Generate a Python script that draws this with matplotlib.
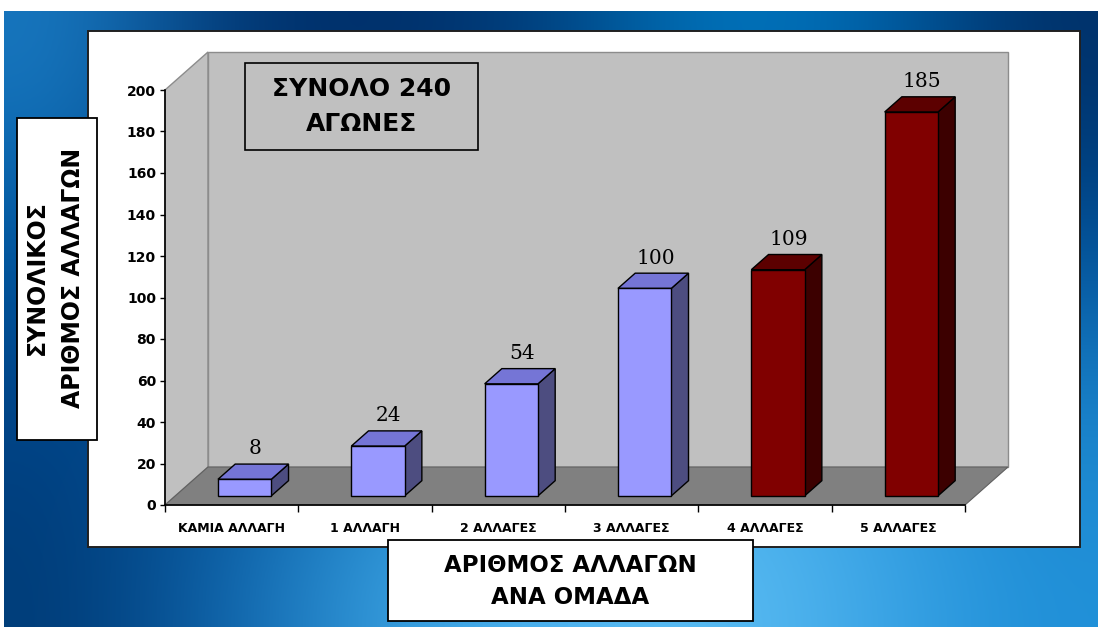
import numpy as np
import matplotlib
matplotlib.use("Agg")
import matplotlib.pyplot as plt
from matplotlib.patches import Polygon, Rectangle
from matplotlib.transforms import IdentityTransform
from matplotlib.colors import to_rgb

categories = ["ΚΑΜΙΑ ΑΛΛΑΓΗ", "1 ΑΛΛΑΓΗ", "2 ΑΛΛΑΓΕΣ", "3 ΑΛΛΑΓΕΣ", "4 ΑΛΛΑΓΕΣ", "5 ΑΛΛΑΓΕΣ"]
values = [8, 24, 54, 100, 109, 185]
yticks = [0, 20, 40, 60, 80, 100, 120, 140, 160, 180, 200]
title_text = "ΣΥΝΟΛΟ 240\nΑΓΩΝΕΣ"
ylabel_text = "ΣΥΝΟΛΙΚΟΣ\nΑΡΙΘΜΟΣ ΑΛΛΑΓΩΝ"
xlabel_text = "ΑΡΙΘΜΟΣ ΑΛΛΑΓΩΝ\nΑΝΑ ΟΜΑΔΑ"

# face colours (front, top, side)
light = ("#9999FF", "#7575D6", "#4D4D80")
dark = ("#800000", "#5C0000", "#3C0000")
bar_colors = [light, light, light, light, dark, dark]

W, H = 1098, 627
fig = plt.figure(figsize=(W / 100, H / 100), dpi=100)
fig.patch.set_facecolor("white")

def fbox(x0, y0, x1, y1):
    # pixel box (top-left origin) -> figure fraction rect
    return [x0 / W, 1 - y1 / H, (x1 - x0) / W, (y1 - y0) / H]

# blue backdrop
bg_grid = [
    ["#1878C0", "#003470", "#002E68", "#00407E", "#0078C0", "#0068B0", "#003068"],
    ["#0058A0", "#003A7C", "#004080", "#005090", "#0060A8", "#0060A8", "#004E96"],
    ["#004488", "#004C94", "#0870B8", "#2090D8", "#3AA8E8", "#2898E0", "#1880C8"],
    ["#003C78", "#1068B0", "#38A0E0", "#50B4F0", "#60C0F4", "#40A8E8", "#2090D8"],
]
bg = np.array([[to_rgb(c) for c in row] for row in bg_grid])
ax_bg = fig.add_axes(fbox(4, 11, W, H), zorder=-3)
ax_bg.imshow(bg, aspect="auto", interpolation="bicubic", extent=[0, 1, 0, 1])
ax_bg.axis("off")

# white chart area
fig.add_artist(Rectangle((88 / W, 1 - 547 / H), 992 / W, 516 / H, transform=fig.transFigure,
                         facecolor="white", edgecolor="#202020", lw=1.4, zorder=-2))

ax = fig.add_axes(fbox(165, 90, 965, 505), zorder=0)
ax.set_xlim(0, 6)
ax.set_ylim(0, 200)
ax.set_autoscale_on(False)
ax.patch.set_visible(False)

DX, DY = 43, 38  # depth offset in pixels
DF, DB = 0.24, 0.64  # bar front / back depth
BW = 0.4

def proj(x, y, d):
    px, py = ax.transData.transform((x, y))
    return (px + d * DX, py + d * DY)

def poly(pts, fc, ec, lw=1.0, z=1):
    p = Polygon(pts, closed=True, facecolor=fc, edgecolor=ec, lw=lw,
                transform=IdentityTransform(), clip_on=False, zorder=z)
    ax.add_patch(p)

# walls and floor
poly([proj(0, 0, 1), proj(6, 0, 1), proj(6, 200, 1), proj(0, 200, 1)], "#C0C0C0", "#8C8C8C", 1.0, 0.5)
poly([proj(0, 0, 0), proj(0, 0, 1), proj(0, 200, 1), proj(0, 200, 0)], "#C0C0C0", "#8C8C8C", 1.0, 0.4)
poly([proj(0, 0, 0), proj(6, 0, 0), proj(6, 0, 1), proj(0, 0, 1)], "#808080", "#606060", 0.8, 0.6)

for i, v in enumerate(values):
    front_c, top_c, side_c = bar_colors[i]
    x0 = i + 0.52 - BW / 2
    x1 = i + 0.52 + BW / 2
    poly([proj(x1, 0, DF), proj(x1, 0, DB), proj(x1, v, DB), proj(x1, v, DF)], side_c, "black", 1.0, 2)
    poly([proj(x0, v, DF), proj(x1, v, DF), proj(x1, v, DB), proj(x0, v, DB)], top_c, "black", 1.0, 2)
    poly([proj(x0, 0, DF), proj(x1, 0, DF), proj(x1, v, DF), proj(x0, v, DF)], front_c, "black", 1.0, 2)
    lx, ly = proj(i + 0.5, v, 0.55)
    ax.text(lx, ly + 9, str(v), transform=IdentityTransform(), ha="center", va="bottom",
            fontsize=14.5, family="DejaVu Serif", color="black", zorder=3)

for s in ["top", "right"]:
    ax.spines[s].set_visible(False)
for s in ["left", "bottom"]:
    ax.spines[s].set_color("black")
    ax.spines[s].set_linewidth(1.2)
    ax.spines[s].set_zorder(2.5)

ax.set_yticks(yticks)
ax.set_yticklabels([str(t) for t in yticks], fontsize=10, fontweight="bold")
ax.tick_params(axis="y", length=3.5, width=1, pad=3)
ax.set_xticks(range(7))
ax.set_xticklabels([])
ax.set_xticks([i + 0.5 for i in range(len(categories))], minor=True)
ax.set_xticklabels(categories, minor=True, fontsize=9, fontweight="bold")
ax.tick_params(axis="x", which="major", length=5, width=1, direction="out")
ax.tick_params(axis="x", which="minor", length=0, pad=12)

# title box on the back wall
fig.add_artist(Rectangle((245 / W, 1 - 150 / H), 233 / W, 87 / H, transform=fig.transFigure,
                         facecolor="none", edgecolor="black", lw=1.2, zorder=2))
fig.text(361.5 / W, 1 - 106.5 / H, title_text, ha="center", va="center", fontsize=18,
         fontweight="bold", linespacing=1.55, zorder=3)

# y label box
fig.add_artist(Rectangle((17 / W, 1 - 440 / H), 80 / W, 322 / H, transform=fig.transFigure,
                         facecolor="white", edgecolor="black", lw=1.3, zorder=2))
fig.text(55 / W, 1 - 278 / H, ylabel_text, ha="center", va="center", rotation=90, fontsize=17,
         fontweight="bold", linespacing=1.6, zorder=3)

# x label box
fig.add_artist(Rectangle((388 / W, 1 - 621 / H), 365 / W, 81 / H, transform=fig.transFigure,
                         facecolor="white", edgecolor="black", lw=1.3, zorder=2))
fig.text(570.5 / W, 1 - 581 / H, xlabel_text, ha="center", va="center", fontsize=16.5,
         fontweight="bold", linespacing=1.5, zorder=3)

fig.savefig("out.png", dpi=100)
